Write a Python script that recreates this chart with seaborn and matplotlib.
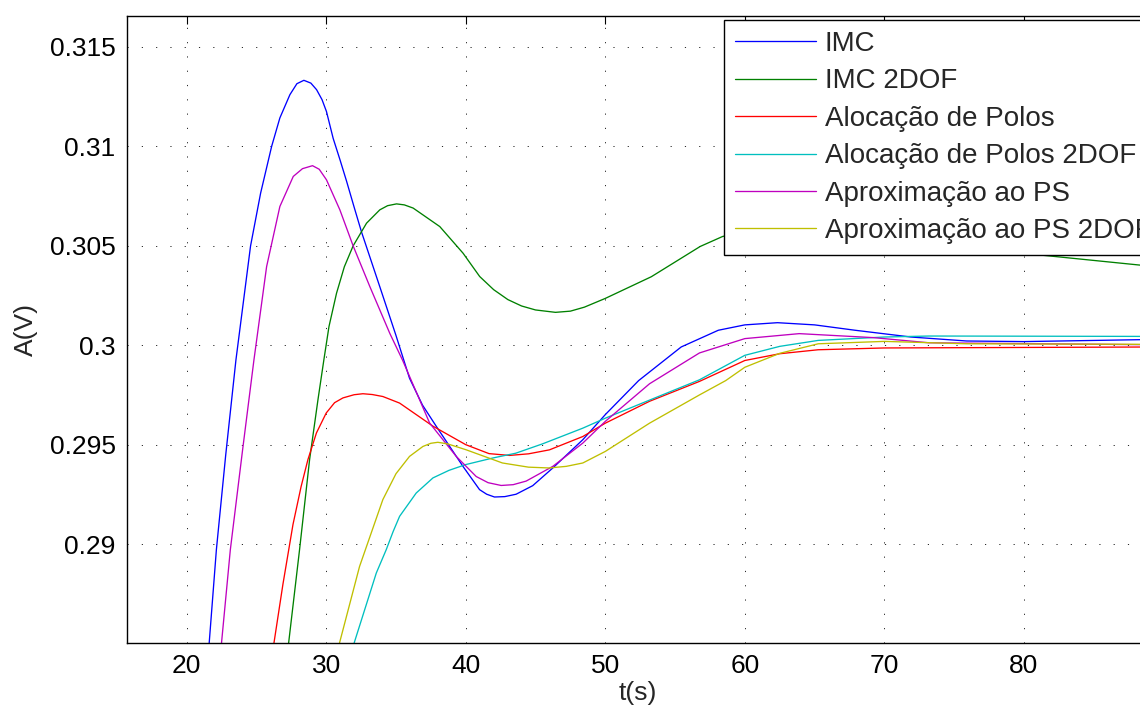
import numpy as np
import pandas as pd
import seaborn as sns
import matplotlib.pyplot as plt

# (t in s, A in V)
t_imc = [21.5, 22.13, 22.8, 23.53, 24.58, 25.3, 26.09, 26.68, 27.4, 27.9, 28.4, 28.9, 29.31, 29.7, 30.02, 30.5,
         31.0, 31.46, 32.0, 32.53, 33.84, 35.0, 35.97, 36.9, 37.89, 39.8, 40.99, 41.5, 42.06, 42.8, 43.61, 44.8,
         46.24, 48.39, 50.0, 52.39, 55.44, 58.1, 60.0, 62.34, 65.0, 67.9, 71.9, 75.9, 80.0, 89.5]
a_imc = [0.2840, 0.28973, 0.2945, 0.29926, 0.305, 0.30765, 0.31, 0.31143, 0.3126, 0.31315, 0.31332, 0.31318,
         0.31285, 0.31235, 0.31175, 0.3104, 0.3093, 0.30825, 0.30695, 0.3057, 0.30295, 0.3005, 0.29835, 0.2970,
         0.29593, 0.29392, 0.29275, 0.29252, 0.29238, 0.2924, 0.29252, 0.29295, 0.29384, 0.29526, 0.29652,
         0.29823, 0.29992, 0.30076, 0.30103, 0.30114, 0.30103, 0.30076, 0.30042, 0.30022, 0.30019, 0.3003]

t_imc2 = [27.2, 27.31, 28.09, 28.81, 29.41, 29.83, 30.2, 30.74, 31.3, 31.93, 32.89, 33.84, 34.4, 35.04, 35.6,
          36.23, 38.14, 39.81, 41.0, 42.0, 43.02, 44.0, 45.0, 46.43, 47.5, 48.5, 50.0, 53.3, 56.8, 58.4, 61.5,
          64.5, 68.0, 72.0, 76.0, 80.9, 89.5]
a_imc2 = [0.2841, 0.28506, 0.28973, 0.29426, 0.29727, 0.29926, 0.30095, 0.30262, 0.30395, 0.305, 0.30614,
          0.30681, 0.30702, 0.30711, 0.30706, 0.3069, 0.30597, 0.30463, 0.30346, 0.3028, 0.3023, 0.30198, 0.30178,
          0.30166, 0.30172, 0.30192, 0.30236, 0.30345, 0.30497, 0.30547, 0.3060, 0.3062, 0.3059, 0.3054, 0.3050,
          0.30456, 0.30395]

t_ap = [26.1, 26.26, 26.9, 27.62, 28.2, 28.69, 29.3, 30.0, 30.6, 31.2, 32.0, 32.63, 33.3, 34.06, 35.26, 37.65,
        40.0, 41.67, 43.14, 44.5, 46.0, 48.39, 50.0, 53.17, 56.75, 60.0, 62.5, 65.26, 70.0, 89.5]
a_ap = [0.2841, 0.28506, 0.2880, 0.2910, 0.2929, 0.29426, 0.2956, 0.2966, 0.29712, 0.29736, 0.29752, 0.29757,
        0.29753, 0.29743, 0.2971, 0.29594, 0.29501, 0.29456, 0.29447, 0.29455, 0.29475, 0.29542, 0.29609,
        0.29719, 0.29819, 0.29924, 0.29958, 0.29978, 0.29987, 0.29992]

t_ap2 = [31.9, 32.01, 33.59, 34.3, 34.8, 35.26, 36.45, 37.65, 38.8, 40.0, 42.0, 43.58, 45.5, 48.39, 50.0, 53.0,
         56.75, 60.0, 62.5, 65.26, 70.0, 73.2, 89.5]
a_ap2 = [0.2842, 0.28506, 0.28856, 0.28973, 0.29065, 0.29141, 0.29258, 0.29334, 0.29372, 0.29401, 0.29435,
         0.29458, 0.29505, 0.29584, 0.29634, 0.2972, 0.29827, 0.2995, 0.29995, 0.30025, 0.30042, 0.30047, 0.30045]

t_ps = [22.4, 22.5, 23.13, 24.0, 24.82, 25.73, 26.68, 27.64, 28.3, 29.02, 29.5, 30.02, 30.98, 31.93, 33.13, 34.56,
        35.47, 37.41, 39.32, 40.75, 41.6, 42.54, 43.4, 44.33, 46.24, 48.39, 50.0, 53.17, 56.75, 60.0, 63.9, 69.2,
        73.2, 89.5]
a_ps = [0.2841, 0.28506, 0.28973, 0.2947, 0.29926, 0.30396, 0.30698, 0.30849, 0.30888, 0.30903, 0.30885,
        0.30832, 0.30681, 0.305, 0.30295, 0.3006, 0.29926, 0.2961, 0.29442, 0.29341, 0.29310, 0.29296, 0.29300,
        0.29318, 0.29392, 0.29509, 0.29618, 0.29807, 0.29962, 0.30034, 0.30059, 0.30039, 0.30013, 0.30003]

t_ps2 = [30.85, 30.96, 32.39, 34.06, 35.0, 35.97, 36.93, 37.5, 38.0, 38.7, 40.0, 42.63, 44.5, 45.97, 47.2, 48.39,
         50.0, 53.17, 56.75, 58.63, 60.0, 62.5, 65.26, 70.0, 75.9, 89.5]
a_ps2 = [0.2842, 0.28506, 0.28889, 0.29225, 0.29355, 0.29442, 0.29492, 0.29508, 0.29513, 0.29505, 0.29476,
         0.29409, 0.29388, 0.29384, 0.29392, 0.29409, 0.29467, 0.29609, 0.29751, 0.29823, 0.2989, 0.29960,
         0.30008, 0.3002, 0.30008, 0.30005]

labels = ['IMC', 'IMC 2DOF', 'Alocação de Polos', 'Alocação de Polos 2DOF',
          'Aproximação ao PS', 'Aproximação ao PS 2DOF']
colors = ['#0000ff', '#008000', '#ff0000', '#00bfbf', '#bf00bf', '#bfbf00']
series = [(t_imc, a_imc), (t_imc2, a_imc2), (t_ap, a_ap), (t_ap2, a_ap2), (t_ps, a_ps), (t_ps2, a_ps2)]

xticks = [20, 30, 40, 50, 60, 70, 80]
yticks = [0.29, 0.295, 0.3, 0.305, 0.31, 0.315]
yticklabels = ['0.29', '0.295', '0.3', '0.305', '0.31', '0.315']

sns.set_style('white')
plt.rcParams['font.family'] = ['Liberation Sans', 'DejaVu Sans']
plt.rcParams['font.size'] = 19

fig = plt.figure(figsize=(11.4, 7.11), dpi=100)
ax = fig.add_axes([0.1111, 0.0961, 0.8976, 0.8819])

for (t, a), lab, c in zip(series, labels, colors):
    df = pd.DataFrame({'t': t, 'A': a})
    sns.lineplot(data=df, x='t', y='A', color=c, lw=0.95, label=lab, ax=ax)

ax.set_xlim(15.7, 89.03)
ax.set_ylim(0.28506, 0.31657)
ax.set_xticks(xticks)
ax.set_xticklabels([str(x) for x in xticks])
ax.set_yticks(yticks)
ax.set_yticklabels(yticklabels)
ax.grid(True, color='0.15', linestyle=(0, (1.2, 13.5)), linewidth=0.7)
ax.tick_params(direction='in', length=6, width=0.8, top=True, right=True, labelsize=19, pad=8, colors='black')
for s in ax.spines.values():
    s.set_linewidth(1.0)
    s.set_color('black')

ax.set_xlabel('t(s)', fontsize=19, labelpad=2)
ax.set_ylabel('A(V)', fontsize=19, labelpad=8)

leg = ax.legend(loc='upper left', bbox_to_anchor=(0.6351, 0.9719), bbox_transform=fig.transFigure,
                fontsize=20, frameon=True, fancybox=False, shadow=False, framealpha=1,
                edgecolor='black', handlelength=2.9, handletextpad=0.33, labelspacing=0.41,
                borderpad=0.4, borderaxespad=0)
leg.get_frame().set_linewidth(1.0)

fig.savefig('out.png', dpi=100)
